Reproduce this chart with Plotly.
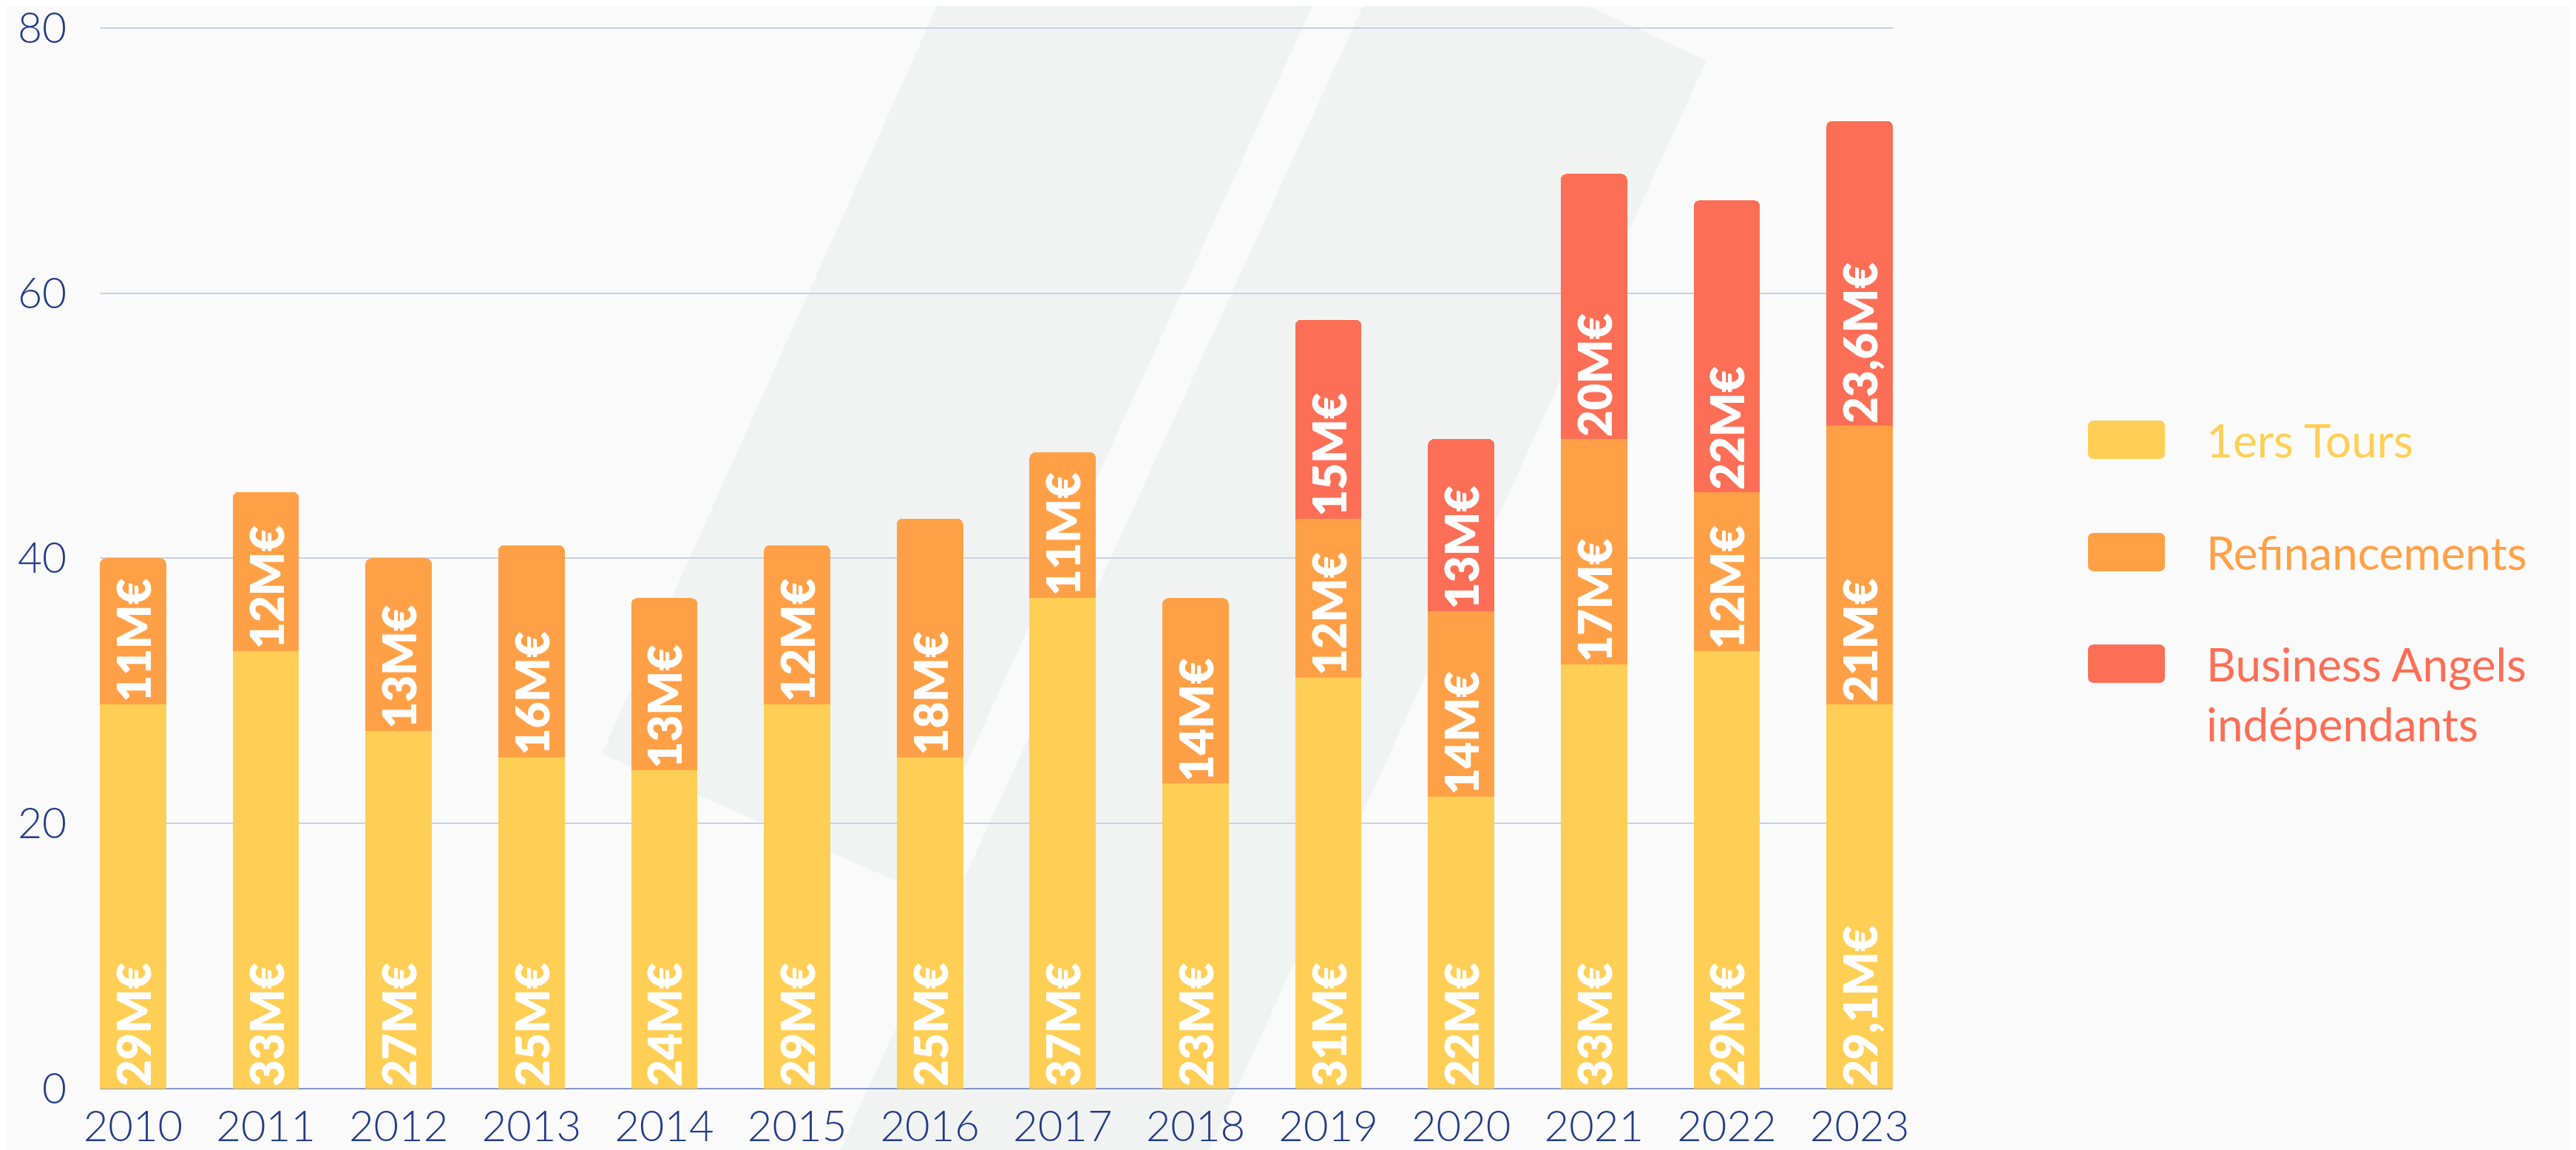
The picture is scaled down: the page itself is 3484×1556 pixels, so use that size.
import plotly.graph_objects as go

# ---------------- data ----------------
years = ["2010", "2011", "2012", "2013", "2014", "2015", "2016",
         "2017", "2018", "2019", "2020", "2021", "2022", "2023"]
premiers_tours = [29, 33, 27, 25, 24, 29, 25, 37, 23, 31, 22, 32, 33, 29]
refinancements = [11, 12, 13, 16, 13, 12, 18, 11, 14, 12, 14, 17, 12, 21]
business_angels = [None, None, None, None, None, None, None, None, None,
                   15, 13, 20, 22, 23]

labels_tours = ["29M€", "33M€", "27M€", "25M€", "24M€", "29M€", "25M€",
                "37M€", "23M€", "31M€", "22M€", "33M€", "29M€", "29,1M€"]
labels_refi = ["11M€", "12M€", "13M€", "16M€", "13M€", "12M€", "18M€",
               "11M€", "14M€", "12M€", "14M€", "17M€", "12M€", "21M€"]
labels_ba = [None, None, None, None, None, None, None, None, None,
             "15M€", "13M€", "20M€", "22M€", "23,6M€"]

series_names = ["1ers Tours", "Refinancements", "Business Angels<br>indépendants"]
y_ticks = [0, 20, 40, 60, 80]
y_max = 80.5

# ---------------- style ----------------
W, H = 3484, 1556
OFF = 8  # default page body margin shifts the figure by this much
# value 0 at page y=1473, value 80 at page y=38; x plot area 135..2560
PX0, PX1, PY1 = 135, 2560, 1473
PX_PER_UNIT = (1473 - 38) / 80
PY0 = PY1 - y_max * PX_PER_UNIT
L, R = PX0 - OFF, W - (PX1 - OFF)
T, B = PY0 - OFF, H - (PY1 - OFF)
C_YELLOW = "#FFCE54"
C_ORANGE = "#FFA046"
C_RED = "#FC6E55"
NAVY = "#213B87"
BG = "#FAFAFA"
WATERMARK = "#F1F3F2"
FONT = "Lato"

def px_to_paper(x, y):
    return (x - PX0) / (PX1 - PX0), (PY1 - y) / (PY1 - PY0)

def poly_path(points):
    pts = [px_to_paper(x, y) for x, y in points]
    return "M " + " L ".join(f"{a:.5f},{b:.5f}" for a, b in pts) + " Z"

def rounded_rect(x0, y0, x1, y1, r):
    def p(x, y):
        a, b = px_to_paper(x, y)
        return f"{a:.5f},{b:.5f}"
    return (f"M {p(x0 + r, y0)} L {p(x1 - r, y0)} Q {p(x1, y0)} {p(x1, y0 + r)} "
            f"L {p(x1, y1 - r)} Q {p(x1, y1)} {p(x1 - r, y1)} "
            f"L {p(x0 + r, y1)} Q {p(x0, y1)} {p(x0, y1 - r)} "
            f"L {p(x0, y0 + r)} Q {p(x0, y0)} {p(x0 + r, y0)} Z")

fig = go.Figure()

bar_font = dict(color="white", size=62, family=FONT, weight=800)
for vals, txt, col, name in [
    (premiers_tours, labels_tours, C_YELLOW, series_names[0]),
    (refinancements, labels_refi, C_ORANGE, series_names[1]),
    (business_angels, labels_ba, C_RED, series_names[2]),
]:
    fig.add_trace(go.Bar(
        x=years, y=vals, name=name, marker=dict(color=col, line=dict(width=0)),
        text=txt, textposition="inside", insidetextanchor="start",
        textangle=-90, textfont=bar_font, showlegend=False,
        hoverinfo="x+y+name",
    ))

# watermark (decorative background logo)
shapes = [
    dict(type="path", xref="paper", yref="paper", layer="below",
         path=poly_path([(1280, -20), (1788, -20), (1231, 1200), (814, 1020)]),
         fillcolor=WATERMARK, line=dict(width=0)),
    dict(type="path", xref="paper", yref="paper", layer="below",
         path=poly_path([(1856, -20), (2088, -20), (2308, 82), (1624, 1580), (1125, 1580)]),
         fillcolor=WATERMARK, line=dict(width=0)),
]

# custom legend
legend_colors = [C_YELLOW, C_ORANGE, C_RED]
legend_centers = [595, 747, 898]
annotations = []
for name, col, cy in zip(series_names, legend_colors, legend_centers):
    shapes.append(dict(type="path", xref="paper", yref="paper",
                       path=rounded_rect(2824, cy - 26, 2928, cy + 26, 8),
                       fillcolor=col, line=dict(width=0)))
    lines = name.count("<br>") + 1
    ty = cy if lines == 1 else cy + 41
    xa, ya = px_to_paper(2982, ty)
    annotations.append(dict(xref="paper", yref="paper", x=xa, y=ya,
                            xanchor="left", yanchor="middle", align="left",
                            text=name, showarrow=False,
                            font=dict(family=FONT, size=62, color=col)))

fig.update_layout(
    width=W, height=H, autosize=False,
    margin=dict(l=L, r=R, t=T, b=B, pad=0, autoexpand=False),
    paper_bgcolor=BG, plot_bgcolor="rgba(0,0,0,0)",
    barmode="stack", bargap=0.5, barcornerradius=8,
    shapes=shapes, annotations=annotations,
    showlegend=False,
    font=dict(family=FONT, color=NAVY),
)
fig.update_xaxes(
    type="category", range=[-0.25, 13.25], showgrid=False, automargin=False,
    showline=False, ticks="", ticklabelstandoff=12, ticklabeloverflow="allow",
    tickfont=dict(family=FONT, size=58, color=NAVY, weight=300),
)
fig.update_yaxes(
    range=[0, y_max], tickvals=y_ticks, showgrid=True, automargin=False,
    gridcolor="#C9CEE3", gridwidth=2,
    zeroline=True, zerolinecolor="#8396CB", zerolinewidth=2,
    showline=False, ticks="", ticklabelstandoff=44, ticklabeloverflow="allow",
    tickfont=dict(family=FONT, size=57, color=NAVY, weight=300),
)

fig.write_html("out.html")
